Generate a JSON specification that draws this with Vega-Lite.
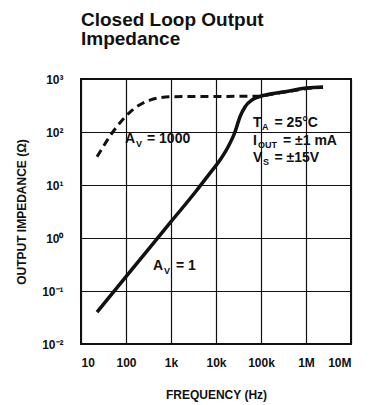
{
  "$schema": "https://vega.github.io/schema/vega-lite/v6.json",
  "width": 270,
  "height": 265,
  "autosize": {"type": "none"},
  "padding": {"left": 81, "top": 79, "right": 20, "bottom": 61},
  "background": "white",
  "title": {
    "text": ["Closed Loop Output", "Impedance"],
    "anchor": "start",
    "frame": "group",
    "font": "Liberation Sans",
    "fontSize": 19,
    "fontWeight": "bold",
    "color": "#111",
    "lineHeight": 19,
    "baseline": "bottom",
    "offset": 5
  },
  "config": {
    "view": {"stroke": "#111", "strokeWidth": 2},
    "axis": {
      "labelFont": "Liberation Sans",
      "labelFontWeight": "bold",
      "labelFontSize": 12,
      "labelColor": "#111",
      "titleFont": "Liberation Sans",
      "titleFontWeight": "bold",
      "titleFontSize": 12,
      "titleColor": "#111",
      "ticks": false,
      "domain": false,
      "grid": true,
      "gridColor": "#111",
      "gridOpacity": 1,
      "gridWidth": 1.2
    }
  },
  "datasets": {
    "curves": [
      {"series": "Av=1", "freq": 22.7, "z": 0.04},
      {"series": "Av=1", "freq": 100, "z": 0.187},
      {"series": "Av=1", "freq": 1000, "z": 2.03},
      {"series": "Av=1", "freq": 3780, "z": 8.05},
      {"series": "Av=1", "freq": 7360, "z": 16.8},
      {"series": "Av=1", "freq": 12300, "z": 29.6},
      {"series": "Av=1", "freq": 18500, "z": 52},
      {"series": "Av=1", "freq": 26400, "z": 100},
      {"series": "Av=1", "freq": 34000, "z": 192},
      {"series": "Av=1", "freq": 44000, "z": 297},
      {"series": "Av=1", "freq": 63000, "z": 402},
      {"series": "Av=1", "freq": 86000, "z": 457},
      {"series": "Av=1", "freq": 158000, "z": 521},
      {"series": "Av=1", "freq": 308000, "z": 568},
      {"series": "Av=1", "freq": 1050000, "z": 676},
      {"series": "Av=1", "freq": 2390000, "z": 706},
      {"series": "Av=1000", "freq": 22.7, "z": 34},
      {"series": "Av=1000", "freq": 51, "z": 100},
      {"series": "Av=1000", "freq": 123, "z": 238},
      {"series": "Av=1000", "freq": 341, "z": 400},
      {"series": "Av=1000", "freq": 950, "z": 462},
      {"series": "Av=1000", "freq": 5000, "z": 468},
      {"series": "Av=1000", "freq": 81000, "z": 472},
      {"series": "Av=1000", "freq": 308000, "z": 560},
      {"series": "Av=1000", "freq": 1050000, "z": 660},
      {"series": "Av=1000", "freq": 2390000, "z": 700}
    ],
    "labels": [
      {"text": "A", "freq": 95, "z": 62},
      {"text": "= 1000", "freq": 293, "z": 62},
      {"text": "A", "freq": 398, "z": 0.249},
      {"text": "= 1", "freq": 1291, "z": 0.249},
      {"text": "T", "freq": 66400, "z": 124.3},
      {"text": "= 25°C", "freq": 200000, "z": 124.3},
      {"text": "I", "freq": 66400, "z": 56.9},
      {"text": "= ±1 mA", "freq": 308000, "z": 56.9},
      {"text": "V", "freq": 66400, "z": 27.2},
      {"text": "= ±15V", "freq": 200000, "z": 27.2}
    ],
    "subs": [
      {"text": "V", "freq": 167, "z": 52.1},
      {"text": "V", "freq": 699, "z": 0.2094},
      {"text": "A", "freq": 105000, "z": 109},
      {"text": "OUT", "freq": 85800, "z": 49.9},
      {"text": "S", "freq": 111000, "z": 23.8}
    ]
  },
  "encoding": {
    "x": {
      "field": "freq",
      "type": "quantitative",
      "scale": {"type": "log", "domain": [10, 10000000], "nice": false},
      "axis": {
        "values": [10, 100, 1000, 10000, 100000, 1000000, 10000000],
        "labelExpr": "datum.value >= 1000000 ? format(datum.value / 1000000, 'd') + 'M' : datum.value >= 1000 ? format(datum.value / 1000, 'd') + 'k' : format(datum.value, 'd')",
        "title": "FREQUENCY (Hz)",
        "labelPadding": 13,
        "titlePadding": 21
      }
    },
    "y": {
      "field": "z",
      "type": "quantitative",
      "scale": {"type": "log", "domain": [0.01, 1000], "nice": false},
      "axis": {
        "values": [0.01, 0.1, 1, 10, 100, 1000],
        "labelExpr": "datum.value == 1000 ? '10³' : datum.value == 100 ? '10²' : datum.value == 10 ? '10¹' : datum.value == 1 ? '10⁰' : datum.value == 0.1 ? '10⁻¹' : '10⁻²'",
        "title": "OUTPUT IMPEDANCE (Ω)",
        "labelPadding": 18,
        "titlePadding": 13
      }
    }
  },
  "layer": [
    {
      "data": {"name": "curves"},
      "transform": [{"filter": "datum.series == 'Av=1000'"}],
      "mark": {"type": "line", "interpolate": "monotone", "color": "#111", "strokeWidth": 3, "strokeDash": [8, 5]},
      "encoding": {}
    },
    {
      "data": {"name": "curves"},
      "transform": [{"filter": "datum.series == 'Av=1'"}],
      "mark": {"type": "line", "interpolate": "monotone", "color": "#111", "strokeWidth": 3.5},
      "encoding": {}
    },
    {
      "data": {"name": "labels"},
      "mark": {"type": "text", "align": "left", "baseline": "alphabetic", "font": "Liberation Sans", "fontWeight": "bold", "fontSize": 14, "color": "#111"},
      "encoding": {"text": {"field": "text"}}
    },
    {
      "data": {"name": "subs"},
      "mark": {"type": "text", "align": "left", "baseline": "alphabetic", "font": "Liberation Sans", "fontWeight": "bold", "fontSize": 9, "color": "#111"},
      "encoding": {"text": {"field": "text"}}
    }
  ]
}
